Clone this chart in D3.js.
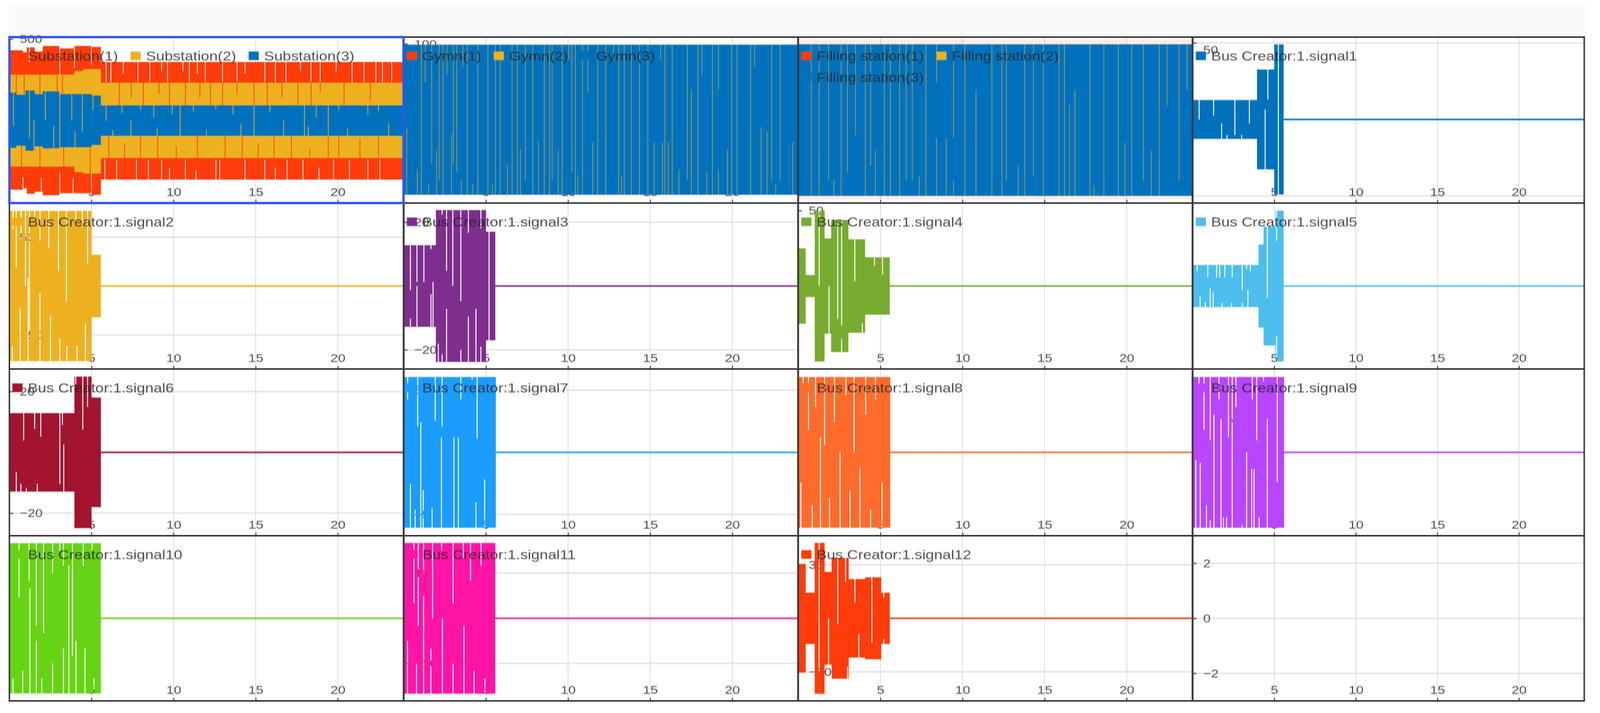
<!DOCTYPE html>
<html>
<head>
<meta charset="utf-8">
<title>Signals</title>
<script src="https://cdnjs.cloudflare.com/ajax/libs/d3/7.8.5/d3.min.js"></script>
<style>
  html, body { margin: 0; padding: 0; background: #fff; overflow: hidden; }
  svg { display: block; }
  g.panel { filter: blur(0.8px); }
</style>
</head>
<body>
<svg id="chart" viewBox="0 0 4259 1826" preserveAspectRatio="none" style="width:100vw;height:100vh"></svg>
<script>
// Shared axis values
var xTicks = [5, 10, 15, 20];
var flatLine = [[5.57, 0], [24, 0]];

var substationLabels = ['Substation(1)', 'Substation(2)', 'Substation(3)'];
var gymnLabels = ['Gymn(1)', 'Gymn(2)', 'Gymn(3)'];
var fillingLabels = ['Filling station(1)', 'Filling station(2)', 'Filling station(3)'];

// Envelope of each trace: [time, low, high], each row holds until the next one.
// Cuts are the thin slits of the oscillation: [time, share of the envelope cut away]
var subRedSteps = [[0, -428, 431], [0.82, -419, 419], [1.06, -453, 449], [1.54, -440, 423], [2.03, -462, 457], [3.03, -449, 442], [3.96, -449, 457], [5.0, -459, 451], [5.57, -366, 359], [24, 0, 0]];
var subRedTop = [[1.22, .1], [3.07, .2], [3.96, .15], [5.0, .12], [5.89, .17], [6.18, .17], [6.94, .1], [7.82, .17], [8.55, .17], [9.27, .08], [9.63, .17], [10.56, .08], [10.96, .17], [11.45, .1], [11.93, .17], [12.98, .17], [13.86, .17], [14.34, .1], [15.55, .17], [16.2, .17], [16.84, .17], [17.73, .08], [18.37, .17], [18.93, .17], [19.9, .08], [20.87, .17], [21.59, .17], [22.32, .17], [22.72, .17], [23.28, .17]];
var subRedBot = [[.82, .08], [1.95, .1], [3.07, .15], [3.88, .1], [5.0, .15], [5.81, .17], [6.53, .17], [7.74, .17], [8.47, .17], [9.27, .17], [9.75, .1], [10.72, .17], [11.37, .08], [12.57, .17], [12.81, .17], [14.34, .17], [15.55, .17], [16.2, .1], [16.92, .17], [17.88, .17], [18.85, .1], [19.74, .17], [20.71, .17], [21.83, .17], [22.56, .17]];
var subYellowSteps = [[0, -286, 281], [3.96, -320, 303], [4.5, -329, 315], [5.57, -233, 231], [24, 0, 0]];
var subYellowTop = [[.42, .3], [.9, .25], [1.86, .3], [2.91, .22], [3.23, .3], [6.7, .3], [7.42, .2], [8.15, .3], [9.11, .15], [9.75, .3], [10.72, .3], [11.6, .2], [12.25, .3], [12.98, .3], [13.86, .15], [14.9, .3], [15.71, .3], [16.6, .2], [17.57, .3], [18.37, .3], [18.93, .12], [20.38, .3], [21.99, .25]];
var subYellowBot = [[.74, .25], [1.86, .3], [3.31, .3], [4.92, .25], [6.05, .3], [7.02, .2], [7.98, .3], [9.03, .3], [10.16, .15], [11.45, .3], [13.14, .3], [14.18, .3], [15.15, .2], [16.12, .3], [17.17, .3], [18.29, .12], [19.42, .3], [20.06, .3], [21.35, .25], [22.48, .3]];
var subBlueSteps = [[0, -170, 170], [.42, -157, 157], [.98, -188, 183], [1.54, -161, 161], [2.03, -173, 178], [3.03, -166, 161], [5.0, -152, 152], [5.57, -96, 91], [24, 0, 0]];
var subBlueTop = [[.25, .6], [1.22, .8], [2.19, .5], [3.07, 1], [3.8, .5], [4.44, .7], [5.09, .3], [5.89, .5], [6.86, .25], [7.98, .15], [8.79, .4], [9.92, .3], [11.2, .2], [12.57, .12], [13.62, .3], [14.9, 1], [15.87, .2], [17.97, 1], [18.69, .4], [19.42, 1], [20.06, .15], [21.83, .3], [22.48, .2]];
var subBlueBot = [[1.5, .5], [2.7, .4], [4.0, .3], [6.3, .2], [7.4, .5], [9.0, .25], [10.4, 1], [12.0, .2], [14.1, .4], [16.7, .5], [18.2, .3], [20.6, .25], [23.1, .4]];

var gymnSteps = [[0, -99, 99], [24, 0, 0]];
var gymnBlueTop = [[1.06, 1], [1.3, .25], [1.7, .8], [2.15, .9], [2.39, 1], [2.63, .2], [3.01, .8], [3.22, .85], [3.59, .15], [3.86, 1], [4.51, 1], [5.12, 1], [5.58, 1], [5.87, 1], [6.59, 1], [6.91, 1], [7.4, .9], [7.85, 1], [8.55, 1], [8.87, 1], [9.03, .9], [9.64, 1], [10.05, .1], [10.24, .85], [10.45, 1], [10.88, 1], [11.2, .32], [11.81, 1], [12.3, 1], [12.77, .1], [13.09, 1], [13.42, 1], [13.85, 1], [14.35, 1], [14.86, 1], [15.63, .1], [15.9, 1], [16.34, 1], [17.27, .9], [17.91, 1], [18.15, .2], [18.79, 1], [19.16, .3], [19.96, 1], [20.29, 1], [21.12, 1], [21.36, .15], [22.4, .9], [22.92, .9]];
var gymnBlueBot = [[.18, .45], [.82, .17], [1.5, .07], [2.0, .3], [2.9, .4], [3.5, .1], [4.2, .07], [5.4, .07], [6.3, .2], [7.1, .3], [8.2, .35], [9.4, .3], [10.6, .13], [11.5, .35], [13.25, .12], [15.25, .35], [15.75, .35], [16.11, .35], [16.75, .17], [17.51, .7], [18.45, .15], [19.16, .17], [19.71, .3], [21.76, .45], [22.12, .42], [22.65, .07], [23.69, .35]];

var fillingRedSteps = [[0, -105, 107], [24, 0, 0]];
var fillingSteps = [[0, -100, 100], [24, 0, 0]];
var fillingBlueTop = [[.79, 1], [1.27, 1], [1.84, .9], [2.61, 1], [2.99, .85], [3.49, .6], [4.08, 1], [4.41, .8], [5.24, 1], [5.61, 1], [6.17, 1], [6.57, .9], [6.94, .9], [7.77, 1], [8.42, .25], [9.46, .9], [10.15, 1], [11.79, 1], [12.4, 1], [12.67, .9], [13.79, 1], [14.32, .87], [14.92, 1], [15.88, 1], [16.2, 1], [17.76, 1], [18.61, 1], [19.49, 1], [20.3, 1], [21.02, .9], [21.98, 1], [22.46, .4], [23.19, .9], [23.67, .3]];
var fillingBlueBot = [[2.16, .11], [4.7, .3], [7.37, .13], [8.42, .38], [9.01, .38], [9.46, .38], [10.82, .7], [13.39, .2], [16.52, .6], [16.84, .7], [18.0, .07], [19.9, .35], [21.5, .3]];

var sig1Steps = [[0, -12.7, 12.7], [3.94, -32.6, 32.6], [5.0, -49, 49], [5.57, 0, 0]];
var sig1Top = [[.39, .5], [1.28, .4], [2.58, .9], [3.47, .6], [4.6, .3], [5.25, 1]];
var sig1Bot = [[1.77, .4], [2.1, .1], [3.0, .1], [4.44, .6]];

var sig2Steps = [[0, -77, 77], [5.0, -32, 32], [5.57, 0, 0]];
var sig2Top = [[.22, .12], [.42, .38], [.71, .2], [.98, .5], [1.22, .85], [1.54, .06], [1.86, .2], [2.4, .25], [2.99, .4], [3.47, .6], [4.04, .08], [4.44, .08], [4.76, .35]];
var sig2Bot = [[.18, .1], [.66, .35], [1.14, .55], [1.86, .45], [2.5, .3], [3.07, .15], [3.5, .1], [4.12, .1], [4.63, .25]];

var sig3Steps = [[0, -12.8, 12.8], [1.95, -23.8, 23.8], [5.0, -17, 17], [5.57, 0, 0]];
var sig3Top = [[.4, .55], [.8, .5], [1.22, .45], [1.65, .05], [2.33, .03], [2.6, .65], [2.98, .5], [3.47, .6], [3.93, .15], [4.69, .12], [5.19, .95]];
var sig3Bot = [[.4, .1], [.8, .55], [1.65, .4], [1.78, .55], [2.1, .12], [2.33, .05], [2.6, .6], [3.47, .08], [3.93, .3], [4.39, .35], [4.69, .1], [5.19, .05]];

var sig4Steps = [[0, -25, 25], [.45, -7.3, 7.3], [1.0, -50, 50], [1.6, -31.6, 31.6], [2.0, -43.8, 43.8], [3.05, -31, 31], [4.07, -19, 19], [5.57, 0, 0]];
var sig4Top = [[1.27, .5], [2.4, .75], [2.64, .9], [3.44, .45], [4.64, .15], [5.13, .3]];
var sig4Bot = [[1.87, .5], [2.64, .2], [3.9, .1]];

var sig5Steps = [[0, -14, 14], [4.03, -27.5, 27.5], [4.34, -39.4, 39.4], [5.07, -50, 50], [5.57, 0, 0]];
var sig5Top = [[.27, .15], [.92, .3], [1.46, .3], [1.65, .3], [1.96, .3], [2.42, .3], [3.03, .9], [3.3, .1], [3.53, .15], [4.57, .6], [5.14, .2]];
var sig5Bot = [[.45, .25], [.77, .12], [1.07, .45], [1.25, .35], [1.8, .1], [2.38, .1], [3.03, .4], [3.38, .4], [5.14, .17]];

var sig6Steps = [[0, -12.9, 12.9], [3.96, -24.9, 24.9], [5.0, -18, 18], [5.57, 0, 0]];
var sig6Top = [[.87, .35], [1.54, .2], [1.91, .3], [3.07, .9], [3.23, .15], [4.04, .05], [4.47, .35], [4.76, .2]];
var sig6Bot = [[.42, .25], [.7, .1], [1.03, .05], [1.7, .1], [3.31, .6]];

var sig7Steps = [[0, -6.06, 6.06], [5.6, 0, 0]];
var sig7Top = [[.23, .15], [.84, .33], [1.91, .29], [2.33, .33], [3.47, .15], [4.16, .02], [4.46, .41]];
var sig7Bot = [[.4, .29], [.69, .12], [1.03, .7], [1.18, .25], [1.72, .13], [2.29, .6], [3.05, .6], [3.32, .6], [4.39, .17], [4.92, .32]];

var sig8Steps = [[0, -6.06, 6.06], [5.6, 0, 0]];
var sig8Top = [[.3, .1], [.62, .35], [1.05, .2], [1.6, .45], [2.2, .3], [2.9, .12], [3.4, .5], [4.1, .25], [4.7, .15]];
var sig8Bot = [[.16, .3], [.85, .15], [1.35, .6], [1.9, .2], [2.55, .5], [3.15, .25], [3.75, .4], [4.4, .12], [5.1, .3]];

var sig9Steps = [[0, -6.06, 6.06], [5.6, 0, 0]];
var sig9Top = [[.38, .05], [.69, .35], [1.07, .42], [1.61, .15], [2.19, .4], [2.42, .3], [2.65, .2], [3.65, .15], [3.92, .42], [4.34, .03], [5.18, .7]];
var sig9Bot = [[.19, .45], [.46, .43], [.84, .15], [1.07, .05], [1.3, .75], [1.73, .72], [1.88, .07], [2.07, .07], [2.42, .72], [3.03, .02], [3.3, .5], [3.61, .39], [3.76, .39], [4.07, .07], [4.57, .72]];

var sig10Steps = [[0, -6.1, 6.1], [5.57, 0, 0]];
var sig10Top = [[.59, .36], [1.2, .25], [1.64, .55], [2.08, .6], [2.63, .2], [3.07, .05], [3.29, .15], [3.84, .75], [4.5, .15], [5.04, .05]];
var sig10Bot = [[.22, .1], [.81, .15], [1.25, .7], [1.64, .35], [1.97, .1], [2.63, .2], [3.29, .3], [3.62, .85], [4.06, .35], [4.6, .3], [5.15, .1]];

var sig11Steps = [[0, -16.7, 16.7], [5.57, 0, 0]];
var sig11Top = [[.61, .4], [.88, .55], [1.2, .2], [1.75, .5], [2.3, .05], [3.0, .4], [3.62, .1], [4.06, .25], [4.7, .15]];
var sig11Bot = [[.22, .35], [.77, .2], [1.2, .65], [1.64, .3], [2.35, .5], [3.0, .2], [3.66, .45], [4.28, .15], [4.93, .1]];

var sig12Steps = [[0, -30.5, 30.5], [.45, -14.4, 14.4], [1.0, -42.3, 42.3], [1.6, -26, 26], [2.03, -33.9, 33.9], [3.07, -22, 22], [4.07, -23, 23], [5.05, -14.4, 14.4], [5.57, 0, 0]];
var sig12Top = [[1.27, .85], [2.4, .55], [2.88, .2], [3.44, .3], [4.48, .8], [5.2, .1]];
var sig12Bot = [[1.84, .5], [3.68, .3], [3.0, .1], [5.2, .1]];

var red = '#ff3c0a', yellow = '#edb120', blue = '#0072bd';

// One entry for every panel, row by row
var panels = [
  { labels: substationLabels, colors: [red, yellow, blue], domain: [-510, 512], yLabels: [500], grid: [], slit: .045,
    traces: [[subRedSteps, subRedTop, subRedBot, red], [subYellowSteps, subYellowTop, subYellowBot, yellow], [subBlueSteps, subBlueTop, subBlueBot, blue]] },
  { labels: gymnLabels, colors: [red, yellow, blue], domain: [-110, 109], yLabels: [100], grid: [], slit: .03,
    traces: [[gymnSteps, [], [], yellow], [gymnSteps, gymnBlueTop, gymnBlueBot, blue]] },
  { labels: fillingLabels, colors: [red, yellow, blue], domain: [-109.5, 109.5], yLabels: [], grid: [], slit: .03,
    traces: [[fillingRedSteps, [], [], red, .1], [fillingSteps, [], [], yellow], [fillingSteps, fillingBlueTop, fillingBlueBot, blue]] },
  { labels: ['Bus Creator:1.signal1'], colors: [blue], domain: [-54.6, 53.8], yLabels: [50], grid: [50, -50], labelShift: 18, traces: [[sig1Steps, sig1Top, sig1Bot, blue]] },

  { labels: ['Bus Creator:1.signal2'], colors: [yellow], domain: [-85, 85], yLabels: [50, -50], grid: [50, -50], traces: [[sig2Steps, sig2Top, sig2Bot, yellow]] },
  { labels: ['Bus Creator:1.signal3'], colors: ['#7e2f8e'], domain: [-26, 26], yLabels: [20, -20], grid: [20, -20], traces: [[sig3Steps, sig3Top, sig3Bot, '#7e2f8e']] },
  { labels: ['Bus Creator:1.signal4'], colors: ['#77ac30'], domain: [-55, 55], yLabels: [50], grid: [], traces: [[sig4Steps, sig4Top, sig4Bot, '#77ac30']] },
  { labels: ['Bus Creator:1.signal5'], colors: ['#4dbeee'], domain: [-55, 55], yLabels: [], grid: [], traces: [[sig5Steps, sig5Top, sig5Bot, '#4dbeee']] },

  { labels: ['Bus Creator:1.signal6'], colors: ['#a2142f'], domain: [-27.4, 27.4], yLabels: [20, -20], grid: [20, -20], traces: [[sig6Steps, sig6Top, sig6Bot, '#a2142f']] },
  { labels: ['Bus Creator:1.signal7'], colors: ['#1a9dff'], domain: [-6.7, 6.7], yLabels: [5, -5], grid: [5, -5], traces: [[sig7Steps, sig7Top, sig7Bot, '#1a9dff']] },
  { labels: ['Bus Creator:1.signal8'], colors: ['#ff6b2b'], domain: [-6.7, 6.7], yLabels: [], grid: [], traces: [[sig8Steps, sig8Top, sig8Bot, '#ff6b2b']] },
  { labels: ['Bus Creator:1.signal9'], colors: ['#b845ff'], domain: [-6.7, 6.7], yLabels: [], grid: [], traces: [[sig9Steps, sig9Top, sig9Bot, '#b845ff']] },

  { labels: ['Bus Creator:1.signal10'], colors: ['#66d415'], domain: [-6.7, 6.7], yLabels: [], grid: [], traces: [[sig10Steps, sig10Top, sig10Bot, '#66d415']] },
  { labels: ['Bus Creator:1.signal11'], colors: ['#ff14a5'], domain: [-18.3, 18.3], yLabels: [10, -10], grid: [10, -10], traces: [[sig11Steps, sig11Top, sig11Bot, '#ff14a5']] },
  { labels: ['Bus Creator:1.signal12'], colors: [red], domain: [-46.3, 46.3], yLabels: [30, -30], grid: [30, -30], traces: [[sig12Steps, sig12Top, sig12Bot, red]] },
  { labels: [], colors: [], domain: [-3, 3], yLabels: [2, 0, -2], grid: [2, 0, -2], traces: [] }
];

// Page layout
var colLeft = [25, 1075, 2125, 3175];
var colRight = [1074, 2124, 3174, 4217];
var rowTop = [95, 520, 945, 1372];
var rowBottom = [520, 945, 1372, 1795];
var stretch = 1.2;     // reference text is stretched sideways

var svg = d3.select('#chart');

// Light strip above the panels
svg.append('rect')
   .attr('x', 24).attr('y', 16)
   .attr('width', 4200).attr('height', 79)
   .attr('fill', '#fafafa');

// Turn steps and cuts into points for a stepped area
function tracePoints(steps, topCuts, botCuts, slit) {
  var points = [];
  for (var i = 0; i < steps.length - 1; i++) {
    var t0 = steps[i][0], t1 = steps[i + 1][0];
    var lo = steps[i][1], hi = steps[i][2];
    var h = hi - lo;
    var marks = [];
    topCuts.forEach(function(c) {
      if (c[0] >= t0 && c[0] < t1) marks.push({ t: c[0], top: c[1], bot: 0 });
    });
    botCuts.forEach(function(c) {
      if (c[0] >= t0 && c[0] < t1) marks.push({ t: c[0], top: 0, bot: c[1] });
    });
    marks.sort(function(a, b) { return a.t - b.t; });
    points.push({ t: t0, lo: lo, hi: hi });
    marks.forEach(function(m) {
      var newHi = hi - m.top * h;
      var newLo = lo + m.bot * h;
      if (newLo > newHi) newLo = newHi;
      points.push({ t: m.t - slit / 2, lo: newLo, hi: newHi });
      points.push({ t: m.t + slit / 2, lo: lo, hi: hi });
    });
  }
  var last = steps[steps.length - 1];
  points.push({ t: last[0], lo: steps[steps.length - 2][1], hi: steps[steps.length - 2][2] });
  return points;
}

function drawPanel(p, i) {
  var col = i % 4, row = Math.floor(i / 4);
  var left = colLeft[col], right = colRight[col];
  var top = rowTop[row], bottom = rowBottom[row];

  var x = d3.scaleLinear().domain([0, 24]).range([left, right]);
  var y = d3.scaleLinear().domain(p.domain).range([bottom, top]);

  var g = svg.append('g').attr('class', 'panel');

  // White plot background
  g.append('rect')
   .attr('x', left).attr('y', top)
   .attr('width', right - left).attr('height', bottom - top)
   .attr('fill', '#fff');

  // Grid
  g.selectAll('.gx').data(xTicks).enter().append('line')
   .attr('x1', x).attr('x2', x)
   .attr('y1', top).attr('y2', bottom)
   .attr('stroke', '#d9d9d9').attr('stroke-width', 2);
  g.selectAll('.gy').data(p.grid).enter().append('line')
   .attr('x1', left).attr('x2', right)
   .attr('y1', y).attr('y2', y)
   .attr('stroke', '#e4e4e4').attr('stroke-width', 4);

  // Axes sit inside the plot
  var xAxis = g.append('g')
               .attr('transform', 'translate(0,' + bottom + ')')
               .call(d3.axisTop(x).tickValues(xTicks).tickSize(8).tickPadding(10));
  xAxis.select('.domain').remove();
  xAxis.selectAll('text').attr('transform', 'scale(' + stretch + ',1)');

  var yAxis = g.append('g')
               .attr('transform', 'translate(' + left + ',0)')
               .call(d3.axisRight(y).tickValues(p.yLabels).tickFormat(d3.format('d')).tickSize(10).tickPadding(13));
  yAxis.select('.domain').remove();
  yAxis.selectAll('text')
       .attr('transform', 'translate(0,' + (p.labelShift || 0) + ') scale(' + stretch + ',1)');

  [xAxis, yAxis].forEach(function(a) {
    a.selectAll('text')
     .attr('font-family', 'Liberation Sans, Arial, sans-serif')
     .attr('font-size', 30)
     .attr('fill', '#505050');
    a.selectAll('line').attr('stroke', '#333').attr('stroke-width', 2.5);
  });

  // Signal envelopes and the flat tail
  var area = d3.area()
               .curve(d3.curveStepAfter)
               .x(function(d) { return x(d.t); })
               .y0(function(d) { return y(d.lo); })
               .y1(function(d) { return y(d.hi); });
  var line = d3.line()
               .x(function(d) { return x(d[0]); })
               .y(function(d) { return y(d[1]); });

  p.traces.forEach(function(tr) {
    g.append('path')
     .attr('d', area(tracePoints(tr[0], tr[1], tr[2], p.slit || 0.06)))
     .attr('fill', tr[3])
     .attr('fill-opacity', tr[4] === undefined ? 1 : tr[4]);
    if (tr[0][tr[0].length - 1][0] < 24) {
      g.append('path')
       .attr('d', line(flatLine))
       .attr('fill', 'none')
       .attr('stroke', tr[3])
       .attr('stroke-width', 4);
    }
  });

  // Legend, wraps when the next item does not fit
  var lx = left + 8, ly = top + 48;
  p.labels.forEach(function(name, k) {
    var label = g.append('text')
                 .attr('transform', 'translate(' + (lx + 41) + ',' + (ly + 12) + ') scale(' + stretch + ',1)')
                 .attr('font-family', 'Liberation Sans, Arial, sans-serif')
                 .attr('font-size', 33.7)
                 .attr('fill', '#222')
                 .attr('fill-opacity', .8)
                 .text(name);
    var w = label.node().getComputedTextLength() * stretch;
    if (lx + 41 + w > right - 10) {
      lx = left + 8;
      ly += 55;
      label.attr('transform', 'translate(' + (lx + 41) + ',' + (ly + 12) + ') scale(' + stretch + ',1)');
    }
    g.append('rect')
     .attr('x', lx).attr('y', ly - 11)
     .attr('width', 27).attr('height', 22)
     .attr('fill', p.colors[k]);
    lx += 41 + w + 33;
  });
}

panels.forEach(drawPanel);

// Borders go last so that signals stay underneath
panels.forEach(function(p, i) {
  if (i == 0) return;
  var col = i % 4, row = Math.floor(i / 4);
  svg.append('rect')
     .attr('x', colLeft[col]).attr('y', rowTop[row])
     .attr('width', colRight[col] - colLeft[col]).attr('height', rowBottom[row] - rowTop[row])
     .attr('fill', 'none')
     .attr('stroke', '#3a3a3a')
     .attr('stroke-width', 4);
});
svg.append('rect')
   .attr('x', colLeft[0]).attr('y', rowTop[0])
   .attr('width', colRight[0] - colLeft[0]).attr('height', rowBottom[0] - rowTop[0])
   .attr('fill', 'none')
   .attr('stroke', '#3158ee')
   .attr('stroke-width', 6);
</script>
</body>
</html>
